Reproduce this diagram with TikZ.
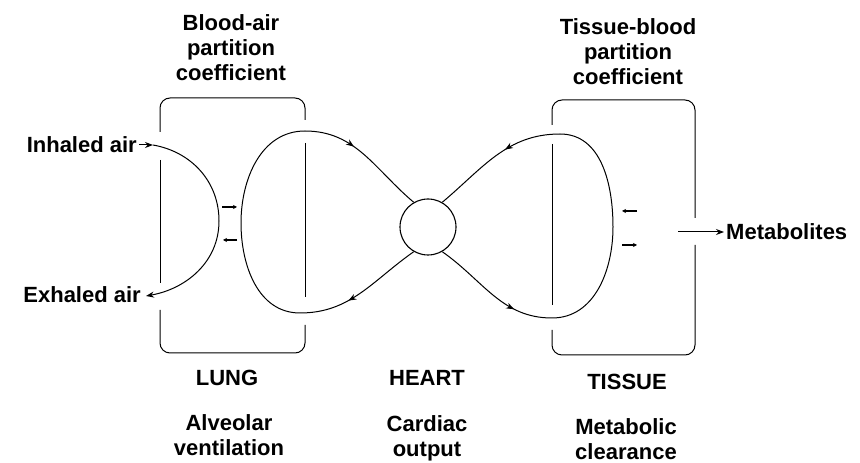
\documentclass[tikz,border=0pt]{standalone}
\usepackage{fontspec}
\setmainfont{Liberation Sans}
\usetikzlibrary{arrows.meta,decorations.markings}

\begin{document}
\begin{tikzpicture}[x=1pt, y=1pt,
        txt/.style={font=\fontsize{22}{25}\selectfont\bfseries, inner sep=2pt},
        pump/.style={circle, draw, line width=1.1pt, minimum size=56pt, inner sep=0pt},
        wall/.style={draw, line width=1pt, rounded corners=10pt},
        flow/.style 2 args={draw, line width=1pt, decoration={markings,
            mark=at position #1 with {\arrow{Stealth[length=8pt,width=6pt]}},
            mark=at position #2 with {\arrow{Stealth[length=8pt,width=6pt]}}},
            postaction={decorate}},
        line/.style={draw, line width=1pt, -{Stealth[length=8pt,width=6pt]}},
        xchg/.style={draw, line width=1.2pt, -{Stealth[length=4pt,width=4pt]}}
    ]
        \useasboundingbox (0,0) rectangle (860,463);

        % compartments
        \node[pump] (heart) at (428,236) {};

        \draw[wall] (160,331) -- (160,365) -- (305,365) -- (305,343);
        \draw[wall] (160,303) -- (160,180);
        \draw[wall] (160,153) -- (160,110) -- (305,110) -- (305,138);
        \draw[wall] (305,320) -- (305,166);

        \draw[wall] (552,338) -- (552,363) -- (695,363) -- (695,245);
        \draw[wall] (552,319) -- (552,158);
        \draw[wall] (552,133) -- (552,108) -- (695,108) -- (695,218);

        % texts
        \node[txt, align=center] (bap) at (231,415) {Blood-air\\partition\\coefficient};
        \node[txt, align=center] (tbp) at (628,411) {Tissue-blood\\partition\\coefficient};
        \node[txt, anchor=east] (inhaled) at (139,318) {Inhaled air};
        \node[txt, anchor=east] (exhaled) at (143,168) {Exhaled air};
        \node[txt, anchor=west] (metab) at (724,231) {Metabolites};
        \node[txt, anchor=base] (lung) at (227,77) {LUNG};
        \node[txt, anchor=base] (hrt) at (427,77) {HEART};
        \node[txt, anchor=base] (tissue) at (627,73) {TISSUE};
        \node[txt, align=center] (alv) at (229,27.5) {Alveolar\\ventilation};
        \node[txt, align=center] (card) at (427,25) {Cardiac\\output};
        \node[txt, align=center] (clear) at (626,23.5) {Metabolic\\clearance};

        \coordinate (airin) at (153,318);
        \coordinate (airout) at (146,167);
        \coordinate (metout) at (678,231);

        % air
        \draw[line] (inhaled.east) -- (airin);
        \draw[line] (airin) to[out=-10, in=90] (219,242) to[out=270, in=10] (airout);

        % blood loops
        \draw[flow={0.16}{0.84}] (heart.240) to[out=215, in=0] (300,150)
            to[out=180, in=270] (241,240) to[out=90, in=180] (305,332)
            to[out=0, in=140] (heart.120);
        \draw[flow={0.18}{0.84}] (heart.300) to[out=325, in=180] (552,145)
            to[out=0, in=270] (613,236) to[out=90, in=0] (560,329)
            to[out=180, in=40] (heart.60);

        % exchange
        \draw[xchg] (222,256) -- (237,256);
        \draw[xchg] (237,223) -- (223,223);
        \draw[xchg] (637,252) -- (622,252);
        \draw[xchg] (622,218) -- (637,218);

        \draw[line] (metout) -- (metab.west);
\end{tikzpicture}
\end{document}
